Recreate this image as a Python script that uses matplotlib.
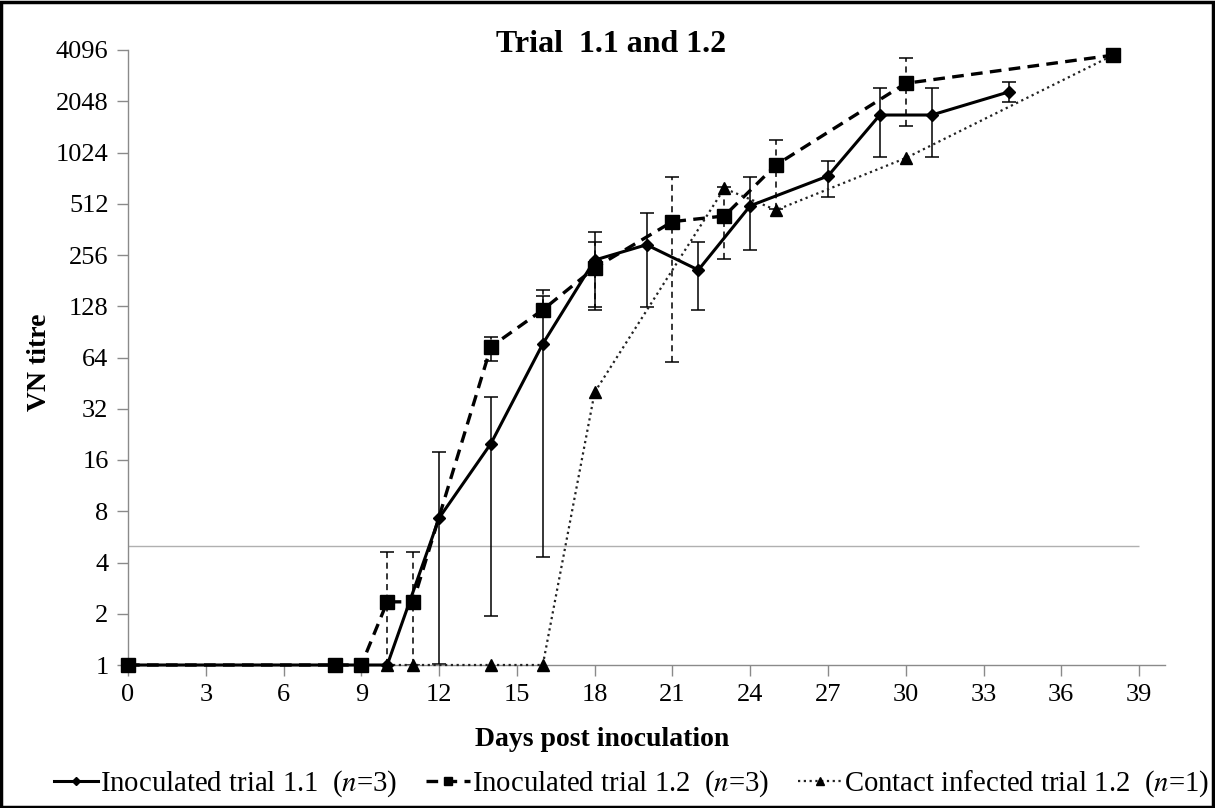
import numpy as np
import matplotlib
matplotlib.use("Agg")
import matplotlib.pyplot as plt
from matplotlib.patches import Rectangle

plt.rcParams.update({
    "font.family": ["Liberation Serif", "DejaVu Serif"],
    "mathtext.fontset": "stix",
    "font.size": 19,
})

# Inoculated trial 1.1 (geometric mean titre with range)
days_11 = [0, 10, 12, 14, 16, 18, 20, 22, 24, 27, 29, 31, 34]
titre_11 = [1, 1, 7.3, 20, 77, 239, 294, 209, 498, 745, 1700, 1700, 2330]
low_11 = [np.nan, np.nan, 1.02, 1.95, 4.3, 126, 126, 121, 274, 564, 968, 968, 2035]
high_11 = [np.nan, np.nan, 17.9, 37.7, 148, 351, 454, 304, 738, 916, 2440, 2440, 2665]

# Inoculated trial 1.2
days_12 = [0, 8, 9, 10, 11, 14, 16, 18, 21, 23, 25, 30, 38]
titre_12 = [1, 1, 1, 2.35, 2.35, 74, 122, 215, 402, 434, 866, 2610, 3820]
low_12 = [np.nan, np.nan, np.nan, 1, 1, 61.3, 112, 122, 60.5, 242, 480, 1470, np.nan]
high_12 = [np.nan, np.nan, np.nan, 4.63, 4.63, 85, 160, 307, 735, 640, 1212, 3660, np.nan]

# Contact infected trial 1.2 (single animal)
days_c = [10, 11, 14, 16, 18, 23, 25, 30, 38]
titre_c = [1, 1, 1, 1, 40, 630, 470, 950, 3820]

threshold = 5
y_ticks = [1, 2, 4, 8, 16, 32, 64, 128, 256, 512, 1024, 2048, 4096]
x_ticks = list(range(0, 40, 3))

AXIS_GREY = "#8a8a8a"


def draw_errors(ax, x, y, lo, hi, ls):
    x = np.asarray(x, float)
    y = np.asarray(y, float)
    lo = np.asarray(lo, float)
    hi = np.asarray(hi, float)
    m = ~np.isnan(lo)
    err = np.vstack([y[m] - lo[m], hi[m] - y[m]])
    _, caps, bars = ax.errorbar(x[m], y[m], yerr=err, fmt="none", ecolor="black",
                                elinewidth=1.1, capsize=5, capthick=1.1, zorder=2)
    for b in bars:
        b.set_linestyle(ls)


fig = plt.figure(figsize=(12.15, 8.08), dpi=100)
ax = fig.add_axes([128 / 1215, 1 - 665 / 808, 1037 / 1215, 615 / 808])

ax.hlines(threshold, 0, 39, color="#b0b0b0", lw=1.0, zorder=1)

draw_errors(ax, days_11, titre_11, low_11, high_11, "-")
draw_errors(ax, days_12, titre_12, low_12, high_12, (0, (4, 3)))

l1, = ax.plot(days_11, titre_11, color="black", lw=2.2, marker="D", ms=6.5,
              zorder=4, clip_on=False)
l2, = ax.plot(days_12, titre_12, color="black", lw=2.4, ls=(0, (3.5, 2.2)),
              marker="s", ms=9.5, zorder=3, clip_on=False)
l3, = ax.plot(days_c, titre_c, color="#222222", lw=1.6, ls=(0, (1, 1.6)),
              marker="^", ms=9, markerfacecolor="black", markeredgecolor="black",
              zorder=3, clip_on=False)

ax.set_yscale("log", base=2)
ax.set_ylim(1, 4096)
ax.set_xlim(0, 40)
ax.set_yticks(y_ticks)
ax.set_yticklabels([str(v) for v in y_ticks])
ax.minorticks_off()
ax.set_xticks(x_ticks)

for side in ("top", "right"):
    ax.spines[side].set_visible(False)
for side in ("left", "bottom"):
    ax.spines[side].set_color(AXIS_GREY)
    ax.spines[side].set_linewidth(1.0)
ax.tick_params(axis="both", direction="out", length=8, width=1.0,
               color=AXIS_GREY, labelsize=19, pad=6)

fig.text(611 / 1215, 1 - 45 / 808, "Trial  1.1 and 1.2", ha="center", va="center",
         fontsize=23, fontweight="bold")
fig.text(40 / 1215, 1 - 362 / 808, "VN titre", ha="center", va="center",
         rotation=90, fontsize=20, fontweight="bold")
fig.text(602 / 1215, 1 - 740 / 808, "Days post inoculation", ha="center",
         va="center", fontsize=20, fontweight="bold")

leg = fig.legend([l1, l2, l3],
                 ["Inoculated trial 1.1  ($n$=3)",
                  "Inoculated trial 1.2  ($n$=3)",
                  "Contact infected trial 1.2  ($n$=1)"],
                 loc="center", bbox_to_anchor=(632 / 1215, 1 - 784 / 808),
                 ncol=3, frameon=False, fontsize=20.7, handlelength=1.5,
                 handletextpad=0.1, columnspacing=1.0, borderpad=0,
                 markerscale=0.65)

fig.patches.append(Rectangle((0.001, 0.001), 0.997, 0.997, transform=fig.transFigure,
                             fill=False, edgecolor="black", lw=2.5))

fig.savefig("out.png", dpi=100)
